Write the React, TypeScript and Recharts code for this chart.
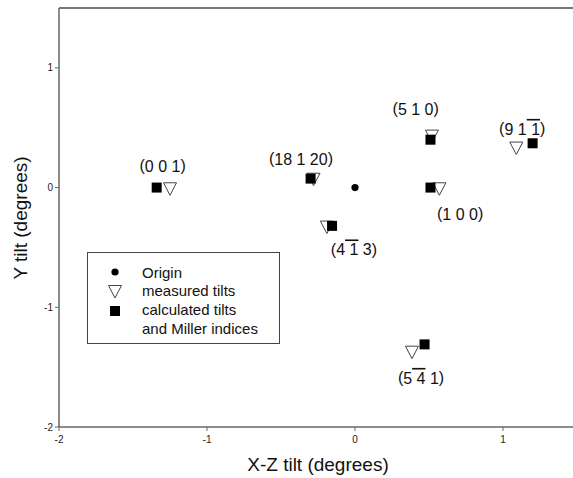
import React from "react";
import {
  ScatterChart,
  Scatter,
  XAxis,
  YAxis,
  Legend,
  ReferenceLine,
} from "recharts";

const FONT = "'Liberation Sans', Arial, sans-serif";

// Miller indices; a leading "-" means a bar over the digit
const indices = [
  ["0", "0", "1"],
  ["18", "1", "20"],
  ["4", "-1", "3"],
  ["5", "1", "0"],
  ["9", "1", "-1"],
  ["1", "0", "0"],
  ["5", "-4", "1"],
];

const origin = [{ x: 0, y: 0 }];

const measuredX = [-1.25, -0.28, -0.19, 0.52, 1.09, 0.57, 0.385];
const measuredY = [-0.01, 0.07, -0.33, 0.43, 0.33, -0.01, -1.375];

const calculatedX = [-1.34, -0.3, -0.155, 0.51, 1.2, 0.51, 0.47];
const calculatedY = [0, 0.075, -0.32, 0.4, 0.37, 0, -1.31];

// where each index label sits, in degrees
const labelX = [-1.3, -0.365, -0.007, 0.41, 1.13, 0.71, 0.446];
const labelY = [0.183, 0.24, -0.517, 0.66, 0.49, -0.217, -1.59];

const xTicks = [-2, -1, 0, 1];
const yTicks = [-2, -1, 0, 1];

const measured = measuredX.map((x, i) => ({ x, y: measuredY[i] }));
const calculated = calculatedX.map((x, i) => ({ x, y: calculatedY[i] }));
const labels = labelX.map((x, i) => ({ x, y: labelY[i], hkl: indices[i] }));

const legendItems = [
  { kind: "dot", lines: ["Origin"] },
  { kind: "tri", lines: ["measured tilts"] },
  { kind: "sq", lines: ["calculated tilts", "and Miller indices"] },
];

const Dot = (p: any) => <circle cx={p.cx} cy={p.cy} r={3.6} fill="#000" />;

const Tri = (p: any) => (
  <polygon
    points={`${p.cx - 6.5},${p.cy - 6} ${p.cx + 6.5},${p.cy - 6} ${p.cx},${p.cy + 6.5}`}
    fill="#fff"
    stroke="#444"
    strokeWidth={1}
  />
);

const Sq = (p: any) => (
  <rect x={p.cx - 5} y={p.cy - 5} width={10} height={10} fill="#000" />
);

const IndexLabel = (p: any) => {
  const parts: string[] = p.payload.hkl;
  return (
    <text
      x={p.cx}
      y={p.cy}
      textAnchor="middle"
      dominantBaseline="central"
      fontFamily={FONT}
      fontSize={16}
      fill="#111"
    >
      (
      {parts.map((s, i) => (
        <tspan
          key={i}
          style={s.startsWith("-") ? { textDecoration: "overline" } : undefined}
        >
          {(i > 0 ? " " : "") + s.replace("-", "")}
        </tspan>
      ))}
      )
    </text>
  );
};

function LegendBox() {
  let row = 0;
  return (
    <div
      style={{
        width: 193,
        height: 92,
        border: "1px solid #444",
        background: "#fff",
        boxSizing: "border-box",
      }}
    >
      <svg width={191} height={90} style={{ display: "block" }}>
        {legendItems.map((it, i) => {
          const y = 19 + row * 18.5;
          row += it.lines.length;
          return (
            <g key={i}>
              {it.kind === "dot" && <Dot cx={27} cy={y} />}
              {it.kind === "tri" && <Tri cx={27} cy={y + 1} />}
              {it.kind === "sq" && <Sq cx={27} cy={y + 2} />}
              {it.lines.map((t, j) => (
                <text
                  key={j}
                  x={54}
                  y={y + j * 19}
                  dominantBaseline="central"
                  fontFamily={FONT}
                  fontSize={15}
                  fill="#111"
                >
                  {t}
                </text>
              ))}
            </g>
          );
        })}
      </svg>
    </div>
  );
}

export default function App() {
  return (
    <div
      style={{
        position: "absolute",
        left: 0,
        top: 0,
        width: 573,
        height: 478,
        overflow: "hidden",
        background: "#fff",
      }}
    >
      <ScatterChart
        width={578}
        height={478}
        margin={{ top: 8, right: 1, bottom: 0, left: 0 }}
      >
        <XAxis
          type="number"
          dataKey="x"
          domain={[-2, 1.5]}
          ticks={xTicks}
          height={51}
          axisLine={{ stroke: "#666", strokeWidth: 1.5 }}
          tickLine={{ stroke: "#666" }}
          tickSize={4}
          tickMargin={5}
          tick={{ fontSize: 10, fill: "#222", fontFamily: FONT }}
          label={{
            content: () => (
              <text
                x={318}
                y={464}
                textAnchor="middle"
                dominantBaseline="central"
                fontFamily={FONT}
                fontSize={19}
                fill="#111"
              >
                X-Z tilt (degrees)
              </text>
            ),
          }}
        />
        <YAxis
          type="number"
          dataKey="y"
          domain={[-2, 1.5]}
          ticks={yTicks}
          width={59}
          axisLine={{ stroke: "#666", strokeWidth: 1.5 }}
          tickLine={{ stroke: "#666" }}
          tickSize={4}
          tick={{ fontSize: 10, fill: "#222", fontFamily: FONT }}
          label={{
            content: () => (
              <text
                x={20}
                y={218}
                transform="rotate(-90 20 218)"
                textAnchor="middle"
                dominantBaseline="central"
                fontFamily={FONT}
                fontSize={19}
                fill="#111"
              >
                Y tilt (degrees)
              </text>
            ),
          }}
        />
        <ReferenceLine
          y={1.5}
          stroke="#777"
          strokeWidth={2}
          ifOverflow="visible"
        />
        <Legend
          layout="vertical"
          align="center"
          verticalAlign="middle"
          content={() => <LegendBox />}
          wrapperStyle={{ position: "absolute", left: 87, top: 252, width: 193 }}
        />
        <Scatter
          name="Origin"
          data={origin}
          shape={Dot}
          isAnimationActive={false}
        />
        <Scatter
          name="measured tilts"
          data={measured}
          shape={Tri}
          isAnimationActive={false}
        />
        <Scatter
          name="calculated tilts"
          data={calculated}
          shape={Sq}
          isAnimationActive={false}
        />
        <Scatter
          name="labels"
          data={labels}
          shape={IndexLabel}
          legendType="none"
          isAnimationActive={false}
        />
      </ScatterChart>
    </div>
  );
}
